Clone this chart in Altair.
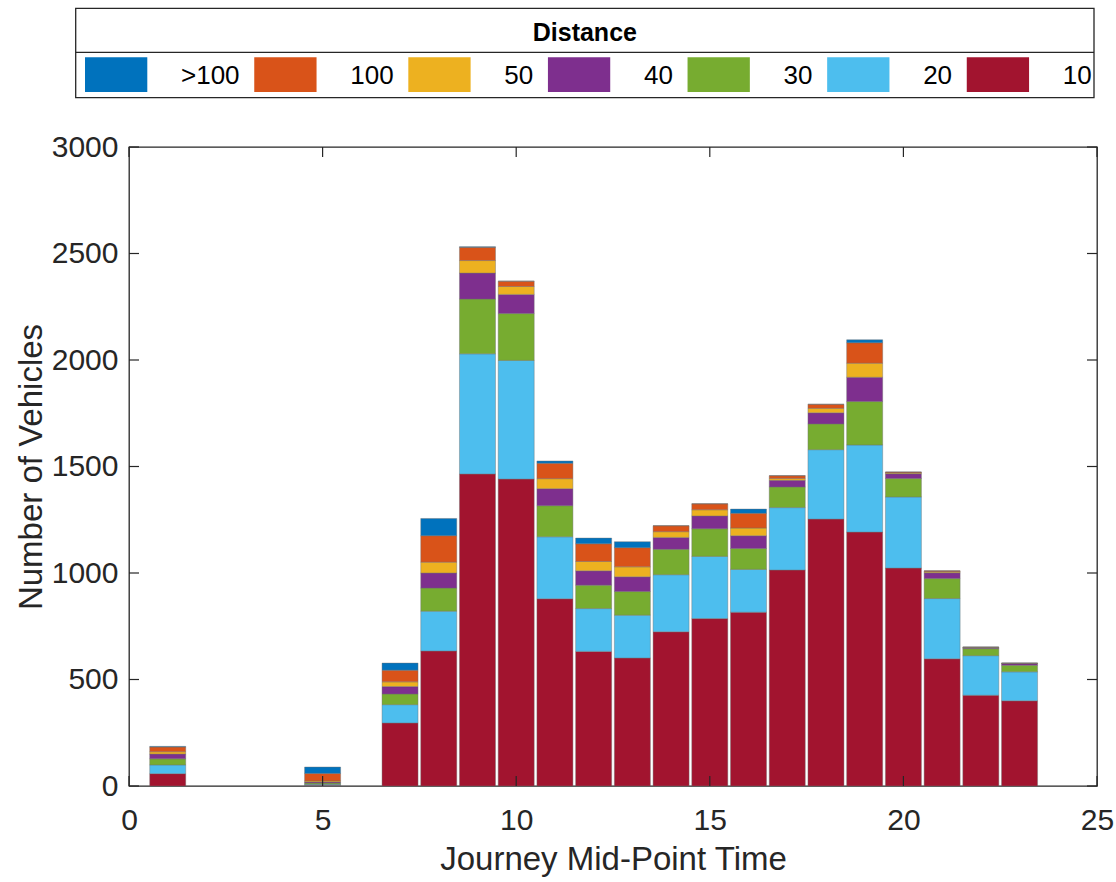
import altair as alt
import pandas as pd

# ---------------- data ----------------
hours = [1, 5, 7, 8, 9, 10, 11, 12, 13, 14, 15, 16, 17, 18, 19, 20, 21, 22, 23]

d10 = [58, 4, 296, 634, 1465, 1441, 879, 632, 601, 724, 786, 816, 1014, 1253, 1192, 1023, 597, 426, 400]
d20 = [41, 4, 86, 187, 564, 557, 291, 201, 201, 268, 292, 201, 293, 326, 409, 334, 283, 186, 136]
d30 = [29, 6, 50, 108, 257, 220, 146, 110, 111, 119, 130, 98, 97, 121, 204, 87, 94, 33, 31]
d40 = [22, 5, 35, 71, 122, 90, 80, 67, 69, 56, 60, 60, 31, 52, 114, 22, 27, 4, 8]
d50 = [11, 5, 22, 51, 59, 37, 47, 44, 47, 27, 29, 36, 9, 21, 66, 4, 5, 2, 1]
d100 = [22, 35, 55, 124, 62, 25, 72, 83, 90, 28, 28, 69, 13, 19, 96, 4, 4, 1, 1]
dgt100 = [3, 30, 33, 81, 3, 0, 11, 27, 28, 0, 0, 20, 0, 0, 14, 0, 0, 0, 0]

legend_labels = [">100", "100", "50", "40", "30", "20", "10"]
legend_colors = ["#0072BD", "#D95319", "#EDB120", "#7E2F8E", "#77AC30", "#4DBEEE", "#A2142F"]
stack_labels = ["10", "20", "30", "40", "50", "100", ">100"]  # bottom -> top
stack_series = [d10, d20, d30, d40, d50, d100, dgt100]

x_ticks = [0, 5, 10, 15, 20, 25]
y_ticks = [0, 500, 1000, 1500, 2000, 2500, 3000]

# ---------------- layout ----------------
PAD_L, PAD_T, PAD_R, PAD_B = 129, 147, 19, 96
W, H = 968, 639
XMAX = 25
FONT = "Liberation Sans"
AX = "#262626"
BAR_HALF = 0.465


def px_to_x(px):
    """canvas pixel -> x data units"""
    return (px - PAD_L) / W * XMAX


rows = []
for i, (lab, vals) in enumerate(zip(stack_labels, stack_series)):
    for h, v in zip(hours, vals):
        rows.append({"hour": h, "cat": lab, "value": v, "ord": i})
df = pd.DataFrame(rows)

# legend layout (swatch + gap + label)
def text_w(s, size=26):
    w = 0
    for ch in s:
        w += 0.584 if ch == ">" else 0.556
    return w * size

leg_rows = []
start = 85.0
for lab, col in zip(legend_labels, legend_colors):
    sx0 = start
    sx1 = sx0 + 62.3
    lx = sx1 + 33.7
    leg_rows.append({"cat": lab, "color": col,
                     "sx0": px_to_x(sx0), "sx1": px_to_x(sx1), "lx": px_to_x(lx)})
    start = lx + text_w(lab) + 14.7
leg_df = pd.DataFrame(leg_rows)

xscale = alt.Scale(domain=[0, XMAX], nice=False, zero=False)
yscale = alt.Scale(domain=[0, 3000], nice=False, zero=False)

bars = alt.Chart(df).transform_stack(
    stack="value", groupby=["hour"], sort=[alt.SortField("ord", order="ascending")],
    as_=["y0", "y1"]
).transform_calculate(
    x0=f"datum.hour - {BAR_HALF}", x1=f"datum.hour + {BAR_HALF}"
).mark_bar(stroke="#6e6e6e", strokeWidth=0.7, strokeOpacity=0.6).encode(
    x=alt.X("x0:Q", scale=xscale,
            axis=alt.Axis(values=x_ticks, title="Journey Mid-Point Time", grid=False,
                          domain=False, ticks=False, tickSize=0, labelPadding=19,
                          labelFontSize=30, titleFontSize=33, titlePadding=8,
                          labelFont=FONT, titleFont=FONT, labelColor=AX, titleColor=AX,
                          titleFontWeight="normal", format="d", labelFlush=False)),
    x2="x1:Q",
    y=alt.Y("y0:Q", scale=yscale,
            axis=alt.Axis(values=y_ticks, title="Number of Vehicles", grid=False,
                          domain=False, ticks=False, tickSize=0, labelPadding=11,
                          labelFontSize=30, titleFontSize=33, titlePadding=3,
                          labelFont=FONT, titleFont=FONT, labelColor=AX, titleColor=AX,
                          titleFontWeight="normal", format="d", labelFlush=False)),
    y2="y1:Q",
    color=alt.Color("cat:N", scale=alt.Scale(domain=legend_labels, range=legend_colors), legend=None),
)

ydf = pd.DataFrame({"v": y_ticks})
xdf = pd.DataFrame({"v": x_ticks})
TL = 10
tick_l = alt.Chart(ydf).mark_rule(color=AX, strokeWidth=1.2).encode(
    y=alt.Y("v:Q", scale=yscale), x=alt.value(0), x2=alt.value(TL))
tick_r = alt.Chart(ydf).mark_rule(color=AX, strokeWidth=1.2).encode(
    y=alt.Y("v:Q", scale=yscale), x=alt.value(W - TL), x2=alt.value(W))
tick_b = alt.Chart(xdf).mark_rule(color=AX, strokeWidth=1.2).encode(
    x=alt.X("v:Q", scale=xscale), y=alt.value(H - TL), y2=alt.value(H))
tick_t = alt.Chart(xdf).mark_rule(color=AX, strokeWidth=1.2).encode(
    x=alt.X("v:Q", scale=xscale), y=alt.value(0), y2=alt.value(TL))

# legend
one = pd.DataFrame({"a": [0]})
box_top, box_bot, box_sep = 8.3 - PAD_T, 97.7 - PAD_T, 52.3 - PAD_T
box_l, box_r = 75.7 - PAD_L, 1094 - PAD_L
leg_box = alt.Chart(one).mark_rect(fill="white", stroke=AX, strokeWidth=1.3).encode(
    x=alt.value(box_l), x2=alt.value(box_r), y=alt.value(box_top), y2=alt.value(box_bot))
leg_sep = alt.Chart(one).mark_rule(color=AX, strokeWidth=1.3).encode(
    x=alt.value(box_l), x2=alt.value(box_r), y=alt.value(box_sep))
leg_title = alt.Chart(one).mark_text(text="Distance", font=FONT, fontSize=25, fontWeight="bold",
                                     color="black", baseline="middle", align="center").encode(
    x=alt.value((box_l + box_r) / 2), y=alt.value(33 - PAD_T))
leg_sw = alt.Chart(leg_df).mark_rect().encode(
    x=alt.X("sx0:Q", scale=xscale), x2="sx1:Q",
    y=alt.value(57.3 - PAD_T), y2=alt.value(92 - PAD_T),
    color=alt.Color("color:N", scale=None),
)
leg_txt = alt.Chart(leg_df).mark_text(font=FONT, fontSize=26, color="black",
                                      align="left", baseline="middle").encode(
    x=alt.X("lx:Q", scale=xscale), y=alt.value(76 - PAD_T), text="cat:N")

chart = alt.layer(
    bars, tick_l, tick_r, tick_b, tick_t, leg_box, leg_sep, leg_title, leg_sw, leg_txt
).properties(
    width=W, height=H,
    padding={"left": PAD_L, "top": PAD_T, "right": PAD_R, "bottom": PAD_B},
    autosize=alt.AutoSizeParams(type="none"),
    background="white",
).configure_view(stroke=AX, strokeWidth=1.3)

chart.save("out.html", embed_options={"renderer": "svg", "actions": False})
